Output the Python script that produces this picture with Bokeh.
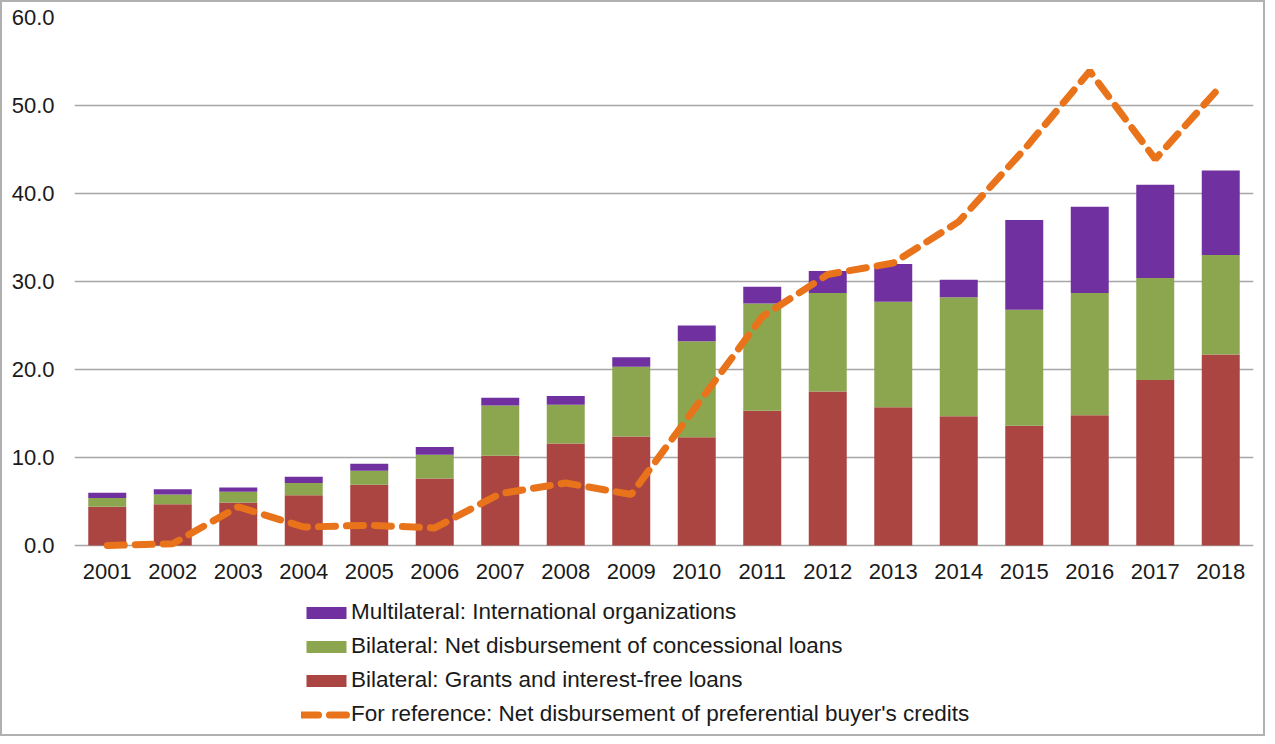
from bokeh.plotting import figure
from bokeh.models import (FactorRange, Range1d, NumeralTickFormatter, Legend, LegendItem,
                          FixedTicker, ColumnDataSource)
from bokeh.core.properties import value
from bokeh.embed import file_html
from bokeh.resources import INLINE

years = [str(y) for y in range(2001, 2019)]
grants = [4.4, 4.7, 4.9, 5.7, 6.9, 7.6, 10.2, 11.6, 12.4, 12.3, 15.3, 17.5, 15.7, 14.7, 13.6, 14.8, 18.8, 21.7]
concessional = [1.0, 1.1, 1.2, 1.4, 1.6, 2.7, 5.7, 4.4, 7.9, 10.9, 12.2, 11.2, 12.0, 13.5, 13.2, 13.9, 11.6, 11.3]
multilateral = [0.6, 0.6, 0.5, 0.7, 0.8, 0.9, 0.9, 1.0, 1.1, 1.8, 1.9, 2.5, 4.3, 2.0, 10.2, 9.8, 10.6, 9.6]
buyers_credits = [0.0, 0.2, 4.4, 2.1, 2.3, 2.0, 5.9, 7.1, 5.8, 15.9, 26.0, 30.8, 32.1, 36.8, 45.0, 53.9, 43.9, 52.2]
y_ticks = [0, 10, 20, 30, 40, 50, 60]

labels = ["Multilateral: International organizations",
          "Bilateral: Net disbursement of concessional loans",
          "Bilateral: Grants and interest-free loans",
          "For reference: Net disbursement of preferential buyer's credits"]

c_red = "#AB4542"
c_green = "#8CA650"
c_purple = "#7030A0"
c_orange = "#E8731A"
font = "Liberation Sans"

# layout: plot area spans 528 px for 0..60; the frame extends 193 px below zero to host the legend
W, H = 1265, 736
top_px, zero_px = 15, 543
y_max = y_ticks[-1]
y_min = -(H - zero_px) / (zero_px - top_px) * y_max

p = figure(x_range=FactorRange(*years, range_padding=0), y_range=Range1d(y_min, y_max),
           width=W, height=H, output_backend="svg", toolbar_location=None,
           x_axis_location=None,
           min_border_left=72, min_border_right=14, min_border_top=top_px, min_border_bottom=0)
p.styles = {"border": "2px solid #b0b0b0", "box-sizing": "border-box"}
p.outline_line_color = None

data = dict(year=years, grants=grants, concessional=concessional, multilateral=multilateral)
rs = p.vbar_stack(["grants", "concessional", "multilateral"], x="year", width=0.58,
                  color=[c_red, c_green, c_purple], line_color=None, source=data)
ln = p.line(x=years, y=buyers_credits, line_color=c_orange, line_width=7,
            line_dash="17 11", line_cap="round")

# category labels under the zero line
lab_src = ColumnDataSource(dict(year=years, base=[y_ticks[0]] * len(years)))
p.text(x="year", y="base", text="year", source=lab_src, y_offset=26,
       text_align="center", text_baseline="middle", text_font=value(font),
       text_font_size="22px", text_color="#1a1a1a")

p.xgrid.grid_line_color = None
p.ygrid.grid_line_color = "#a6a6a6"
p.ygrid.grid_line_width = 1.5
p.yaxis.ticker = FixedTicker(ticks=y_ticks)
p.yaxis.formatter = NumeralTickFormatter(format="0.0")
p.yaxis.axis_line_color = None
p.yaxis.major_tick_line_color = None
p.yaxis.minor_tick_line_color = None
p.yaxis.major_tick_out = 0
p.yaxis.major_tick_in = 0
p.yaxis.major_label_standoff = 20
p.yaxis.major_label_text_font = font
p.yaxis.major_label_text_font_size = "22px"
p.yaxis.major_label_text_color = "#1a1a1a"

legend = Legend(items=[LegendItem(label=labels[0], renderers=[rs[2]]),
                       LegendItem(label=labels[1], renderers=[rs[1]]),
                       LegendItem(label=labels[2], renderers=[rs[0]]),
                       LegendItem(label=labels[3], renderers=[ln])],
                location=(227, 11), orientation="vertical")
legend.padding = 0
legend.margin = 0
legend.spacing = 8
legend.glyph_width = 50
legend.glyph_height = 15
legend.label_height = 24
legend.label_standoff = 0
legend.label_text_font = font
legend.label_text_font_size = "22.5px"
legend.label_text_color = "#1a1a1a"
legend.border_line_color = None
legend.background_fill_alpha = 0
p.add_layout(legend, "center")

open("out.html", "w").write(file_html(p, INLINE))
